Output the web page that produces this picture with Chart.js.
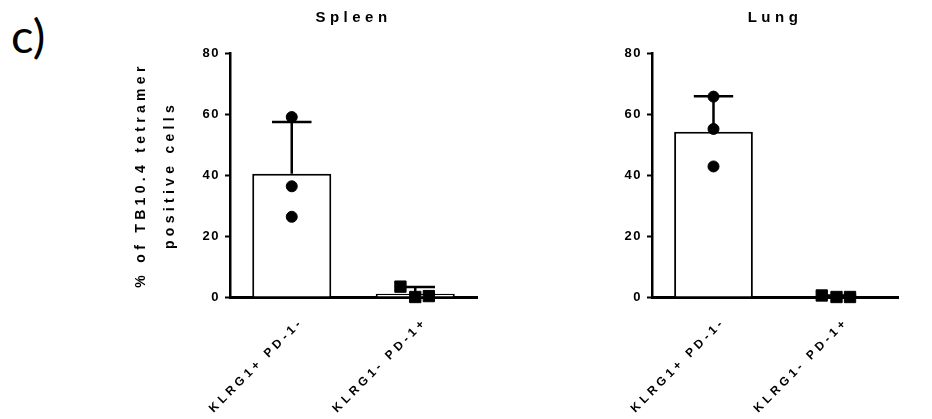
<!DOCTYPE html>
<html>
<head>
<meta charset="utf-8">
<script src="https://cdn.jsdelivr.net/npm/chart.js@4.4.1/dist/chart.umd.min.js"></script>
<style>
  body { margin: 0; background: #fff; }
  .wrap { position: relative; width: 932px; height: 419px; }
  .panel { position: absolute; top: 0; }
  #tag { position: absolute; left: 11px; top: 7px; font: 47px Lato, sans-serif; color: #000; line-height: 1.2; }
</style>
</head>
<body>
<div class="wrap">
  <div id="tag">c)</div>
  <canvas id="spleen" class="panel" style="left:0" width="490" height="419"></canvas>
  <canvas id="lung" class="panel" style="left:490px" width="442" height="419"></canvas>
</div>
<script>
// groups on the x axis
const categories = ['KLRG1+ PD-1-', 'KLRG1- PD-1+'];

// Spleen: bar means, upper SD, individual mice
const spleenMeans = [40.4, 1.1];
const spleenSD = [17.0, 2.2];
const spleenKlrgPos = [59.0, 36.3, 26.3];
const spleenPdPos = [3.4, 0.0, 0.3];

// Lung
const lungMeans = [54.2, 0.2];
const lungSD = [11.6, 0.3];
const lungKlrgPos = [65.7, 55.1, 42.8];
const lungPdPos = [0.5, 0.0, 0.0];

// horizontal scatter of the points inside each group
const klrgJitter = [0, 0, 0];
const pdJitter = [-0.12, 0, 0.11];

const yTicks = [0, 20, 40, 60, 80];

const FONT = 'Arial, "Liberation Sans", sans-serif';

// letter spacing per font size (panel title, axis title, y ticks, x labels)
const SPACING = { '15': '4.5px', '14': '4.3px', '13': '1.5px', '12': '3.8px' };

const spacing = {
  id: 'spacing',
  beforeInit(chart) {
    const ctx = chart.ctx;
    const fill = ctx.fillText;
    ctx.fillText = function (text, x, y, maxWidth) {
      const m = /(\d+)px/.exec(this.font);
      this.letterSpacing = (m && SPACING[m[1]]) || '0px';
      return maxWidth === undefined ? fill.call(this, text, x, y) : fill.call(this, text, x, y, maxWidth);
    };
  }
};

// upper SD whisker drawn on top of each bar
const errorBars = {
  id: 'errorBars',
  afterDatasetDraw(chart, args) {
    const ds = chart.data.datasets[args.index];
    if (!ds.errorPlus) return;
    const ctx = chart.ctx;
    const y = chart.scales.y;
    args.meta.data.forEach((bar, i) => {
      const top = y.getPixelForValue(ds.data[i] + ds.errorPlus[i]);
      const half = bar.width / 4;
      ctx.save();
      ctx.strokeStyle = '#000';
      ctx.lineWidth = 2.5;
      ctx.beginPath();
      ctx.moveTo(bar.x, bar.y);
      ctx.lineTo(bar.x, top);
      ctx.moveTo(bar.x - half, top);
      ctx.lineTo(bar.x + half, top);
      ctx.stroke();
      ctx.restore();
    });
  }
};

function points(values, groupIndex, jitter) {
  return values.map((v, i) => ({ x: groupIndex + jitter[i], y: v }));
}

function makePanel(id, title, means, sd, klrg, pd, opts) {
  return new Chart(document.getElementById(id), {
    type: 'bar',
    data: {
      labels: categories,
      datasets: [
        {
          data: means,
          errorPlus: sd,
          backgroundColor: '#fff',
          borderColor: '#000',
          borderWidth: 2,
          barPercentage: 0.64,
          categoryPercentage: 1,
          grouped: false,
          order: 2
        },
        {
          type: 'scatter',
          xAxisID: 'xj',
          data: points(klrg, 0, klrgJitter),
          pointStyle: 'circle',
          pointRadius: 5.5,
          backgroundColor: '#000',
          borderColor: '#000',
          clip: false,
          order: 0
        },
        {
          type: 'scatter',
          xAxisID: 'xj',
          data: points(pd, 1, pdJitter),
          pointStyle: 'rect',
          pointRadius: 8,
          backgroundColor: '#000',
          borderColor: '#000',
          clip: false,
          order: 0
        }
      ]
    },
    options: {
      responsive: false,
      animation: false,
      layout: { padding: { left: opts.padLeft, right: opts.padRight, top: 0, bottom: 0 } },
      plugins: {
        legend: { display: false },
        tooltip: { enabled: false },
        title: {
          display: true,
          text: title,
          fullSize: false,
          color: '#000',
          font: { family: FONT, size: 15, weight: 'bold', lineHeight: 1.2 },
          padding: { top: 9, bottom: 26 }
        }
      },
      scales: {
        x: {
          type: 'category',
          grid: { display: false, drawTicks: false },
          border: { display: true, color: '#000', width: 3 },
          ticks: {
            color: '#000',
            font: { family: FONT, size: 12, weight: 'bold' },
            minRotation: 45,
            maxRotation: 45,
            autoSkip: false,
            padding: 18,
            labelOffset: 10
          },
          afterFit(scale) { scale.height = 122; }
        },
        xj: {
          type: 'linear',
          display: false,
          offset: false,
          min: -0.5,
          max: 1.5
        },
        y: {
          min: 0,
          max: 80,
          afterBuildTicks(scale) { scale.ticks = yTicks.map(v => ({ value: v })); },
          grid: { drawOnChartArea: false, drawTicks: true, tickLength: 5, tickWidth: 2, tickColor: '#000' },
          border: { display: true, color: '#000', width: 2.5 },
          ticks: {
            color: '#000',
            padding: 5,
            font: { family: FONT, size: 13, weight: 'bold' }
          },
          title: opts.yTitle ? {
            display: true,
            text: opts.yTitle,
            color: '#000',
            font: { family: FONT, size: 14, weight: 'bold', lineHeight: 2.1 },
            padding: { top: 11, bottom: 0 }
          } : { display: false },
          afterFit(scale) { scale.width = opts.axisWidth; }
        }
      }
    },
    plugins: [spacing, errorBars]
  });
}

makePanel('spleen', 'Spleen', spleenMeans, spleenSD, spleenKlrgPos, spleenPdPos, {
  padLeft: 115, padRight: 13, axisWidth: 115,
  yTitle: ['% of TB10.4 tetramer', 'positive cells']
});

makePanel('lung', 'Lung', lungMeans, lungSD, lungKlrgPos, lungPdPos, {
  padLeft: 0, padRight: 34, axisWidth: 162, yTitle: null
});
</script>
</body>
</html>
